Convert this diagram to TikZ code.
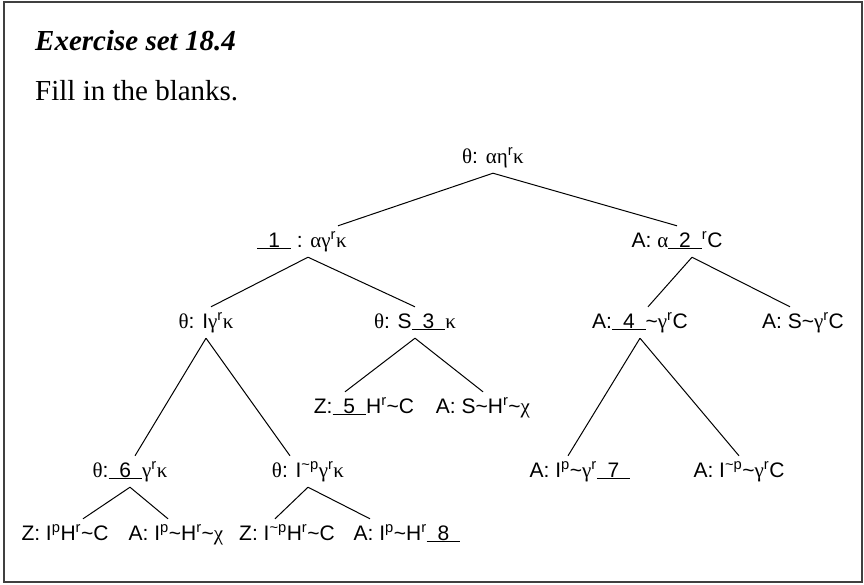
\documentclass[tikz,border=0pt]{standalone}
\usepackage{fontspec}
\setmainfont{Liberation Serif}
\setsansfont{Liberation Sans}
\usepackage{tikz}
\usetikzlibrary{positioning}

\newcommand{\blank}[1]{\underline{\makebox[1.6em]{#1}}}
\newcommand{\gk}[1]{{\rmfamily #1}}
\newcommand{\ssup}[1]{\textsuperscript{#1}}
\newcommand{\tld}{\textasciitilde}

\begin{document}
\begin{tikzpicture}[
  x=1pt, y=-1pt,
  heading/.style={anchor=base west, inner sep=0, font=\fontsize{29}{34}\selectfont},
  lbl/.style={anchor=base, inner sep=0, text height=21pt, text depth=10pt,
    font=\sffamily\fontsize{21}{25}\selectfont},
  branch/.style={line width=1pt},
]
  \useasboundingbox (0,0) rectangle (864,584);
  \draw[line width=1.6pt, black!75] (4,2) rectangle (862,582);

  \node[heading] (title) at (35,50) {\bfseries\itshape Exercise set 18.4};
  \node[heading] (task)  at (35,100) {Fill in the blanks.};

  \node[lbl] (top)  at (493,163) {\gk{θ}: \gk{αη}\ssup{r}\gk{κ}};
  \node[lbl] (q1)   at (302,247) {\blank{1} : \gk{αγ}\ssup{r}\gk{κ}};
  \node[lbl] (q2)   at (677,247) {A: \gk{α}\blank{2}\ssup{r}C};
  \node[lbl] (lgk)  at (206,328) {\gk{θ}: I\gk{γ}\ssup{r}\gk{κ}};
  \node[lbl] (s3k)  at (415,328) {\gk{θ}: S\blank{3}\gk{κ}};
  \node[lbl] (a4)   at (640,328) {A:\blank{4}\tld\gk{γ}\ssup{r}C};
  \node[lbl] (asg)  at (803,328) {A: S\tld\gk{γ}\ssup{r}C};
  \node[lbl] (z5)   at (364,413) {Z:\blank{5}H\ssup{r}\tld C};
  \node[lbl] (ash)  at (483,413) {A: S\tld H\ssup{r}\tld\gk{χ}};
  \node[lbl] (t6)   at (130,477) {\gk{θ}:\blank{6}\gk{γ}\ssup{r}\gk{κ}};
  \node[lbl] (tip)  at (308,477) {\gk{θ}: I\ssup{\tld p}\gk{γ}\ssup{r}\gk{κ}};
  \node[lbl] (a7)   at (580,477) {A: I\ssup{p}\tld\gk{γ}\ssup{r}\blank{7}};
  \node[lbl] (aip)  at (739,477) {A: I\ssup{\tld p}\tld\gk{γ}\ssup{r}C};
  \node[lbl] (zph)  at (65,540)  {Z: I\ssup{p}H\ssup{r}\tld C};
  \node[lbl] (aphx) at (176,540) {A: I\ssup{p}\tld H\ssup{r}\tld\gk{χ}};
  \node[lbl] (ziph) at (287,540) {Z: I\ssup{\tld p}H\ssup{r}\tld C};
  \node[lbl] (aph8) at (407,540) {A: I\ssup{p}\tld H\ssup{r}\blank{8}};

  \draw[branch] (top.south) -- ([xshift=36pt]q1.north);
  \draw[branch] (top.south) -- (q2.north);
  \draw[branch] ([xshift=6pt]q1.south) -- ([xshift=5pt]lgk.north);
  \draw[branch] ([xshift=6pt]q1.south) -- (s3k.north);
  \draw[branch] ([xshift=15pt]q2.south) -- ([xshift=8pt]a4.north);
  \draw[branch] ([xshift=15pt]q2.south) -- ([xshift=-13pt]asg.north);
  \draw[branch] (lgk.south) -- ([xshift=5pt]t6.north);
  \draw[branch] (lgk.south) -- ([xshift=-18pt]tip.north);
  \draw[branch] (s3k.south) -- ([xshift=-19pt]z5.north);
  \draw[branch] (s3k.south) -- (ash.north);
  \draw[branch] (a4.south) -- ([xshift=-12pt]a7.north);
  \draw[branch] (a4.south) -- (aip.north);
  \draw[branch] (t6.south) -- ([xshift=18pt]zph.north);
  \draw[branch] (t6.south) -- ([xshift=-8pt]aphx.north);
  \draw[branch] (tip.south) -- ([xshift=-12pt]ziph.north);
  \draw[branch] (tip.south) -- ([xshift=-37pt]aph8.north);
\end{tikzpicture}
\end{document}
